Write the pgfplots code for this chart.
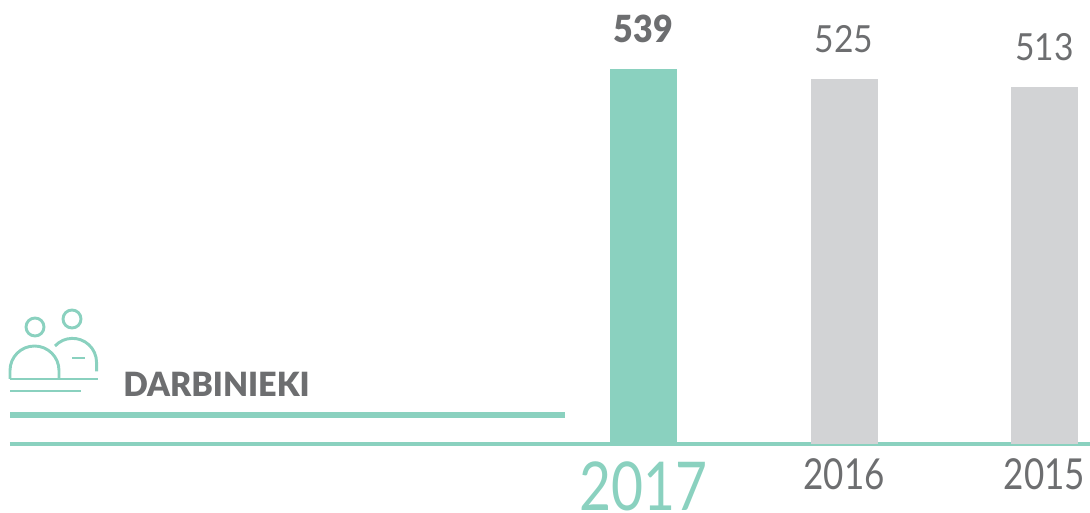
\documentclass[border=0pt]{standalone}
\usepackage{fontspec}
\usepackage{pgfplots}
\pgfplotsset{compat=1.18}
\setmainfont{Lato}
\newfontfamily\thinfont{Lato}[FakeStretch=0.82]
\newfontfamily\valfont{Lato}[FakeStretch=0.9]
\newfontfamily\boldfont{Lato Black}[FakeStretch=0.97]
\newfontfamily\boldval{Lato Black}[FakeStretch=0.91]
\definecolor{teal1}{HTML}{8AD1BF}
\definecolor{gray1}{HTML}{D2D3D5}
\definecolor{text1}{HTML}{6D6E70}
\begin{document}
\begin{tikzpicture}[x=0.75pt,y=-0.75pt]
% picture is laid out in reference pixels, origin top left
\path[use as bounding box] (0,0) rectangle (1090,513);
\coordinate (base) at (10,444);
\begin{axis}[
 at={(base)}, anchor=south west,
 scale only axis, width=810pt, height=333pt,
 xmin=-3.1596, xmax=2.2269, ymin=0, ymax=638.5,
 axis x line*=bottom, axis y line=none,
 axis line style={draw=teal1, line width=2.5pt, -},
 xtick={0,1,2},
 xticklabels={
  {\fontsize{50.5pt}{50.5pt}\thinfont\color{teal1}\raisebox{0pt}[\dimexpr\height+2.25pt\relax]{2017}},
  {\fontsize{32pt}{32pt}\thinfont\color{text1}2016},
  {\fontsize{32pt}{32pt}\thinfont\color{text1}2015}},
 major tick length=0pt,
 x tick label style={inner sep=0pt, anchor=north, yshift=-10.5pt},
 ytick=\empty, clip=false,
 /pgf/number format/assume math mode=true,
 ybar, bar width=50.25pt, bar shift=0pt,
 nodes near coords,
 nodes near coords style={inner sep=0pt, anchor=south, yshift=19.5pt, text=text1},
]
\addplot[fill=teal1, draw=none, nodes near coords style={font=\boldval\fontsize{28pt}{28pt}\selectfont}] coordinates {(0,539)};
\addplot[fill=gray1, draw=none, nodes near coords style={font=\valfont\fontsize{28pt}{28pt}\selectfont}] coordinates {(1,525)};
\addplot[fill=gray1, draw=none, nodes near coords style={font=\valfont\fontsize{28pt}{28pt}\selectfont}] coordinates {(2,513)};
\end{axis}
\draw[teal1, line width=3.8pt] (10,415) -- (565,415);
\node[anchor=base west, inner sep=0pt, text=text1, font=\boldfont\fontsize{25pt}{25pt}\selectfont] at (123,397) {DARBINIEKI};
% icon
\begin{scope}[teal1, line width=2.2pt]
 \draw (35,327) circle[radius=9];
 \draw (72,319) circle[radius=9];
 \draw (10,379) -- (10,370.5) arc[start angle=180, end angle=0, x radius=24.5, y radius=-24.5] -- (59,379);
 \draw (10,379) -- (98,379);
 \draw (10,391) -- (81,391);
 \draw (55,346) arc[start angle=137, end angle=0, x radius=24, y radius=-24] -- ++(0,9);
 \draw (72,358) -- (85,358);
\end{scope}
\end{tikzpicture}
\end{document}
